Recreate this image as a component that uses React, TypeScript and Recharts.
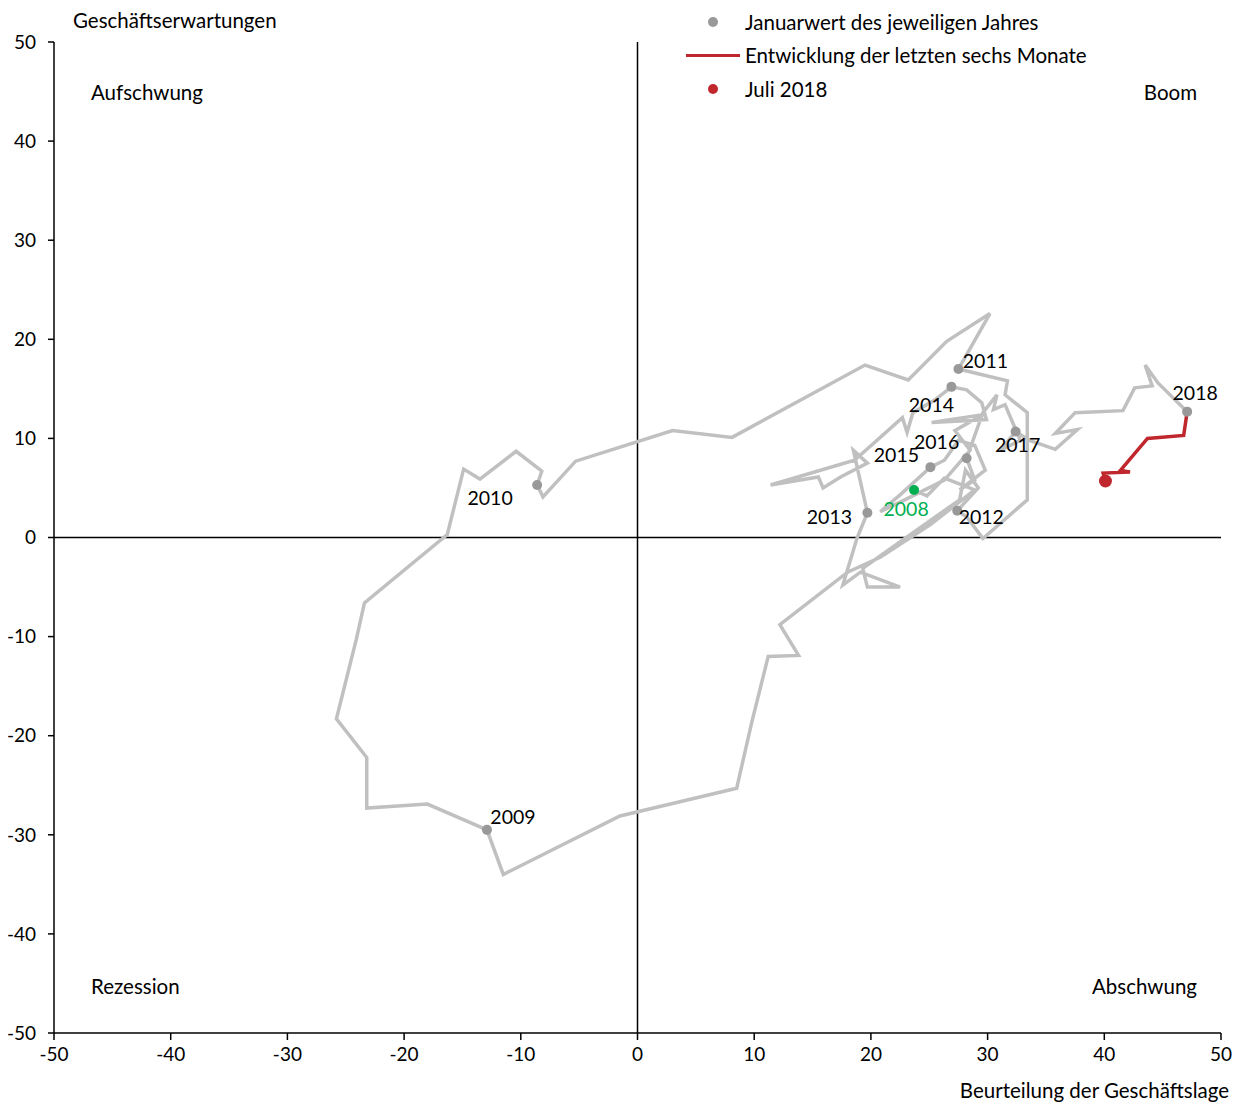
import React from "react";
import { ScatterChart, Scatter, XAxis, YAxis, ReferenceLine } from "recharts";

// Beurteilung der Geschäftslage (x) / Geschäftserwartungen (y), monthly path Jan 2008 - Jan 2018
const pathLage = [
  23.7, 24.8, 26.3, 28.9, 25.1, 20.8, 18.0, 12.2, 13.8, 11.2, 9.8, 8.5, -1.5, -11.5,
  -12.9, -18.0, -23.2, -23.2, -25.8, -24.1, -23.4, -16.3, -14.9, -13.5, -10.4, -8.2,
  -8.6, -8.1, -5.3, 3.0, 8.1, 19.5, 23.2, 26.5, 30.2,
  27.5, 31.7, 31.5, 33.4, 33.4, 33.4, 29.6, 28.2,
  27.4, 29.2, 28.1, 27.6, 19.3, 19.7, 22.5, 19.1, 17.6, 18.8,
  19.7, 18.5, 19.7, 17.4, 15.9, 15.5, 11.4, 18.6, 22.7, 23.1, 23.6, 25.5,
  26.9, 28.2, 29.5, 29.9, 25.2, 29.6, 27.2, 28.5, 26.3, 22.9, 20.8, 22.5,
  25.1, 26.3, 27.5, 28.9, 29.8, 27.6, 28.9,
  28.2, 29.6, 30.8, 30.5, 31.5, 32.8, 31.1,
  32.4, 33.6, 35.8, 37.7, 35.8, 37.5, 41.6, 42.6, 44.1, 43.5, 44.6,
  47.1,
];
const pathErwartung = [
  4.8, 4.2, 6.0, 4.8, 1.3, -2.0, -3.5, -8.8, -11.9, -12.0, -18.6, -25.3, -28.1, -34.0,
  -29.5, -26.9, -27.3, -22.2, -18.3, -10.3, -6.6, 0.3, 6.9, 5.9, 8.7, 6.7,
  5.3, 4.1, 7.7, 10.8, 10.1, 17.4, 15.9, 19.8, 22.6,
  17.0, 15.8, 14.4, 12.6, 7.8, 3.8, -0.1, 2.1,
  2.7, 5.0, 6.8, 3.8, -3.1, -5.0, -5.0, -3.5, -4.8, -0.1,
  2.5, 8.8, 7.5, 6.1, 5.0, 6.1, 5.3, 7.8, 12.1, 10.6, 12.6, 13.9,
  15.2, 14.9, 13.6, 11.9, 11.6, 12.4, 10.8, 8.8, 5.8, 3.8, 2.6, 4.3,
  7.1, 7.8, 9.8, 9.3, 6.8, 4.8, 5.8,
  8.0, 12.6, 14.4, 12.9, 13.4, 9.8, 8.8,
  10.7, 9.8, 8.9, 10.9, 10.5, 12.6, 12.8, 15.1, 15.3, 17.4, 15.6,
  12.7,
];

// Januarwerte
const years = ["2008", "2009", "2010", "2011", "2012", "2013", "2014", "2015", "2016", "2017", "2018"];
const janLage = [23.7, -12.9, -8.6, 27.5, 27.4, 19.7, 26.9, 25.1, 28.2, 32.4, 47.1];
const janErwartung = [4.8, -29.5, 5.3, 17.0, 2.7, 2.5, 15.2, 7.1, 8.0, 10.7, 12.7];

// letzte sechs Monate (Jan - Jul 2018)
const recentLage = [47.1, 46.8, 43.7, 41.4, 42.2, 39.9, 40.1];
const recentErwartung = [12.7, 10.3, 10.0, 6.8, 6.6, 6.5, 5.7];

const axisTicks = [-50, -40, -30, -20, -10, 0, 10, 20, 30, 40, 50];

const grayPath = pathLage.map((x, i) => ({ x, y: pathErwartung[i] }));
const redPath = recentLage.map((x, i) => ({ x, y: recentErwartung[i] }));
const janPoints = years.map((year, i) => ({ x: janLage[i], y: janErwartung[i], year }));
const lastPoint = [redPath[redPath.length - 1]];

const FONT = "Lato, 'Noto Sans', sans-serif";
const GRAY_LINE = "#c0c0c0";
const GRAY_DOT = "#999999";
const GREEN = "#00b050";
const RED = "#c0272d";

// where each year label sits relative to its dot
const labelOffset: Record<string, [number, number]> = {
  "2008": [-8, 19],
  "2009": [26, -13],
  "2010": [-47, 13],
  "2011": [27, -9],
  "2012": [24, 6],
  "2013": [-38, 4],
  "2014": [-20, 18],
  "2015": [-34, -13],
  "2016": [-30, -17],
  "2017": [2, 13],
  "2018": [8, -19],
};

const NoShape = () => <g />;

const YearDot = (props: any) => {
  const { cx, cy, payload } = props;
  const color = payload.year === "2008" ? GREEN : GRAY_DOT;
  const [dx, dy] = labelOffset[payload.year];
  return (
    <g>
      <circle cx={cx} cy={cy} r={5} fill={color} />
      <text
        x={cx + dx}
        y={cy + dy}
        textAnchor="middle"
        dominantBaseline="central"
        fontFamily={FONT}
        fontSize={19.5}
        fill={payload.year === "2008" ? GREEN : "#000"}
      >
        {payload.year}
      </text>
    </g>
  );
};

const LastDot = (props: any) => <circle cx={props.cx} cy={props.cy} r={6.5} fill={RED} />;

const textBase: React.CSSProperties = {
  position: "absolute",
  fontFamily: FONT,
  fontSize: 20.5,
  color: "#000",
  whiteSpace: "nowrap",
  lineHeight: 1,
};

export default function App() {
  const tickStyle = { fill: "#000", fontSize: 19, fontFamily: FONT };
  return (
    <div style={{ position: "relative", width: 1233, height: 1095 }}>
      <ScatterChart width={1233} height={1095} margin={{ top: 34, right: 20, bottom: 30, left: 0 }}>
        <XAxis
          type="number"
          dataKey="x"
          domain={[-50, 50]}
          ticks={axisTicks}
          allowDataOverflow
          height={40}
          tickSize={7}
          tickMargin={8}
          axisLine={{ stroke: "#000", strokeWidth: 1.5 }}
          tickLine={{ stroke: "#000", strokeWidth: 1.5 }}
          tick={tickStyle}
        />
        <YAxis
          type="number"
          dataKey="y"
          domain={[-50, 50]}
          ticks={axisTicks}
          allowDataOverflow
          width={46}
          tickSize={6}
          tickMargin={12}
          axisLine={{ stroke: "#000", strokeWidth: 1.5 }}
          tickLine={{ stroke: "#000", strokeWidth: 1.5 }}
          tick={tickStyle}
        />
        <ReferenceLine x={0} stroke="#000" strokeWidth={1.5} />
        <ReferenceLine y={0} stroke="#000" strokeWidth={1.5} />
        <Scatter
          data={grayPath}
          line={{ stroke: GRAY_LINE, strokeWidth: 3.5, strokeLinejoin: "miter" }}
          shape={NoShape}
          isAnimationActive={false}
        />
        <Scatter
          data={redPath}
          line={{ stroke: RED, strokeWidth: 3.5 }}
          shape={NoShape}
          isAnimationActive={false}
        />
        <Scatter data={janPoints} shape={YearDot} isAnimationActive={false} />
        <Scatter data={lastPoint} shape={LastDot} isAnimationActive={false} />
      </ScatterChart>

      <div style={{ ...textBase, left: 65, top: 12, transform: "translateY(-50%)" }}>Geschäftserwartungen</div>
      <div style={{ ...textBase, left: 83, top: 84, transform: "translateY(-50%)" }}>Aufschwung</div>
      <div style={{ ...textBase, left: 1189, top: 84, transform: "translate(-100%, -50%)" }}>Boom</div>
      <div style={{ ...textBase, left: 83, top: 978, transform: "translateY(-50%)" }}>Rezession</div>
      <div style={{ ...textBase, left: 1189, top: 978, transform: "translate(-100%, -50%)" }}>Abschwung</div>
      <div style={{ ...textBase, left: 1221, top: 1082, transform: "translate(-100%, -50%)" }}>
        Beurteilung der Geschäftslage
      </div>

      <div style={{ position: "absolute", left: 700, top: 9, width: 10, height: 10, borderRadius: 5, background: GRAY_DOT }} />
      <div style={{ ...textBase, left: 737, top: 14, transform: "translateY(-50%)" }}>Januarwert des jeweiligen Jahres</div>
      <div style={{ position: "absolute", left: 678, top: 46, width: 54, height: 3, background: RED }} />
      <div style={{ ...textBase, left: 737, top: 47, transform: "translateY(-50%)" }}>Entwicklung der letzten sechs Monate</div>
      <div style={{ position: "absolute", left: 700, top: 76, width: 10, height: 10, borderRadius: 5, background: RED }} />
      <div style={{ ...textBase, left: 737, top: 81, transform: "translateY(-50%)" }}>Juli 2018</div>
    </div>
  );
}
